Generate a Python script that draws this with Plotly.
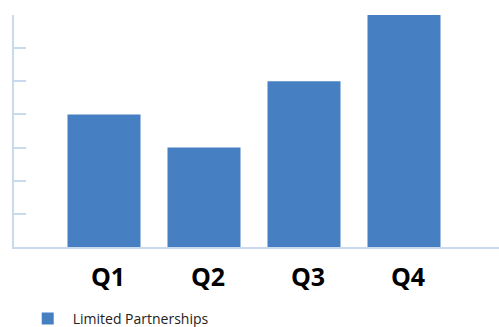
import plotly.graph_objects as go

# Quarterly values for the single series
quarters = ["Q1", "Q2", "Q3", "Q4"]
values = [4, 3, 5, 7]
series_name = "Limited Partnerships"

bar_color = "#4680C3"
axis_color = "#C9DAEE"

fig = go.Figure(
    go.Bar(
        x=quarters,
        y=values,
        name=series_name,
        marker=dict(color=bar_color, line=dict(width=0)),
        showlegend=True,
    )
)

fig.update_layout(
    width=499,
    height=327,
    margin=dict(l=14, r=0, t=15, b=80, autoexpand=False),
    paper_bgcolor="white",
    plot_bgcolor="white",
    bargap=0.27,
    showlegend=True,
    legend=dict(
        orientation="h",
        x=0.018,
        xanchor="left",
        y=-0.31,
        yanchor="middle",
        tracegroupgap=0,
        font=dict(family="Open Sans", size=14, color="#222222"),
        itemwidth=40,
        borderwidth=0,
        bgcolor="rgba(0,0,0,0)",
    ),
)

fig.update_xaxes(
    range=[-0.9, 3.95],
    automargin=False,
    showgrid=False,
    showline=True,
    linecolor=axis_color,
    linewidth=1.5,
    ticks="",
    ticklabelshift=4,
    ticklabelstandoff=7,
    tickfont=dict(family="Open Sans", size=25, color="#000000", weight="bold"),
    zeroline=False,
)

fig.update_yaxes(
    range=[0, 7],
    dtick=1,
    automargin=False,
    showgrid=False,
    showline=True,
    linecolor=axis_color,
    linewidth=1.5,
    ticks="inside",
    ticklen=12,
    tickwidth=1.5,
    tickcolor=axis_color,
    showticklabels=False,
    zeroline=False,
)

fig.write_html("out.html")
